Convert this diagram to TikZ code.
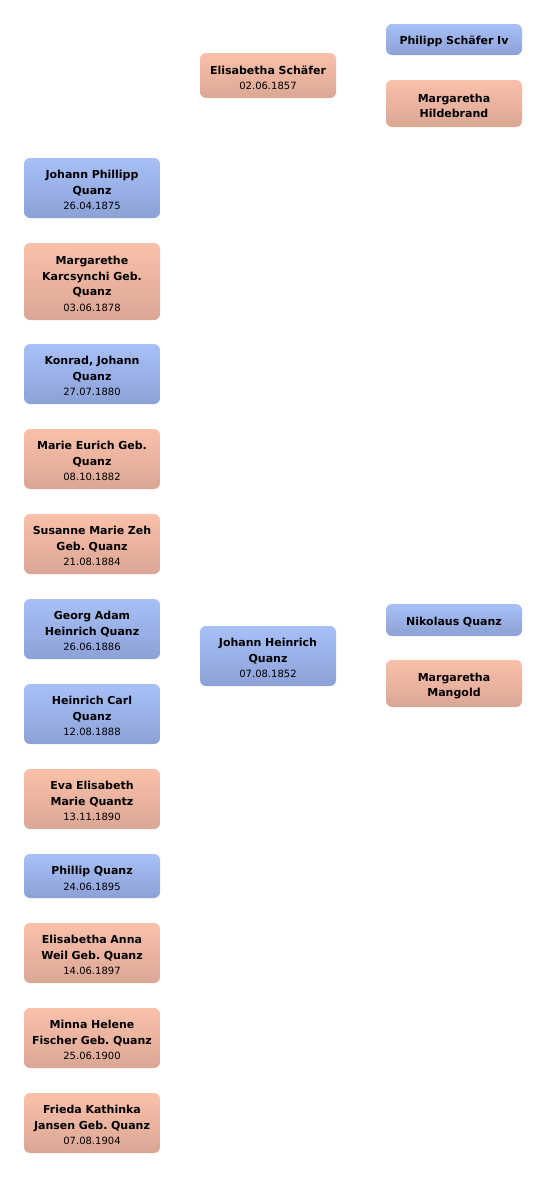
\documentclass[tikz,border=0pt]{standalone}
\usepackage{fontspec}
\setmainfont{DejaVu Sans}
\usepackage{tikz}
\frenchspacing

\definecolor{maletop}{RGB}{168,192,247}
\definecolor{malebot}{RGB}{140,161,214}
\definecolor{femtop}{RGB}{250,192,170}
\definecolor{fembot}{RGB}{218,167,149}

\newcommand{\nm}[1]{{\bfseries #1}}
\newcommand{\dt}[1]{{\fontsize{10}{13}\selectfont #1}}

\begin{document}
\begin{tikzpicture}[x=1pt, y=-1pt,
    person/.style={rectangle, rounded corners=6pt, minimum width=136pt, inner sep=0pt,
                   text width=132pt, align=center, font=\fontsize{11}{15.5}\selectfont, minimum height=#1,
                   execute at begin node=\rule{0pt}{13pt}},
    male/.style={person=#1, top color=maletop, bottom color=malebot},
    female/.style={person=#1, top color=femtop, bottom color=fembot}]
            \useasboundingbox (0,0) rectangle (546,1178);

            % grandparents
            \node[male=31] (gfa) at (454,39.5) {\nm{Philipp Schäfer Iv}};
            \node[female=47] (gfb) at (454,103.5) {\nm{Margaretha\\Hildebrand}};
            \node[male=32] (gfc) at (454,620) {\nm{Nikolaus Quanz}};
            \node[female=47] (gfd) at (454,683.5) {\nm{Margaretha\\Mangold}};

            % parents
            \node[female=45] (mother) at (268,75.5) {\nm{Elisabetha Schäfer}\\\dt{02.06.1857}};
            \node[male=60] (father) at (268,656) {\nm{Johann Heinrich\\Quanz}\\\dt{07.08.1852}};

            % children
            \node[male=60] (kid1) at (92,188) {\nm{Johann Phillipp\\Quanz}\\\dt{26.04.1875}};
            \node[female=77] (kid2) at (92,281.5) {\nm{Margarethe\\Karcsynchi Geb.\\Quanz}\\\dt{03.06.1878}};
            \node[male=60] (kid3) at (92,374) {\nm{Konrad, Johann\\Quanz}\\\dt{27.07.1880}};
            \node[female=60] (kid4) at (92,459) {\nm{Marie Eurich Geb.\\Quanz}\\\dt{08.10.1882}};
            \node[female=60] (kid5) at (92,544) {\nm{Susanne Marie Zeh\\Geb. Quanz}\\\dt{21.08.1884}};
            \node[male=60] (kid6) at (92,629) {\nm{Georg Adam\\Heinrich Quanz}\\\dt{26.06.1886}};
            \node[male=60] (kid7) at (92,714) {\nm{Heinrich Carl\\Quanz}\\\dt{12.08.1888}};
            \node[female=60] (kid8) at (92,799) {\nm{Eva Elisabeth\\Marie Quantz}\\\dt{13.11.1890}};
            \node[male=44] (kid9) at (92,876) {\nm{Phillip Quanz}\\\dt{24.06.1895}};
            \node[female=60] (kid10) at (92,953) {\nm{Elisabetha Anna\\Weil Geb. Quanz}\\\dt{14.06.1897}};
            \node[female=60] (kid11) at (92,1038) {\nm{Minna Helene\\Fischer Geb. Quanz}\\\dt{25.06.1900}};
            \node[female=60] (kid12) at (92,1123) {\nm{Frieda Kathinka\\Jansen Geb. Quanz}\\\dt{07.08.1904}};
        \end{tikzpicture}
\end{document}
